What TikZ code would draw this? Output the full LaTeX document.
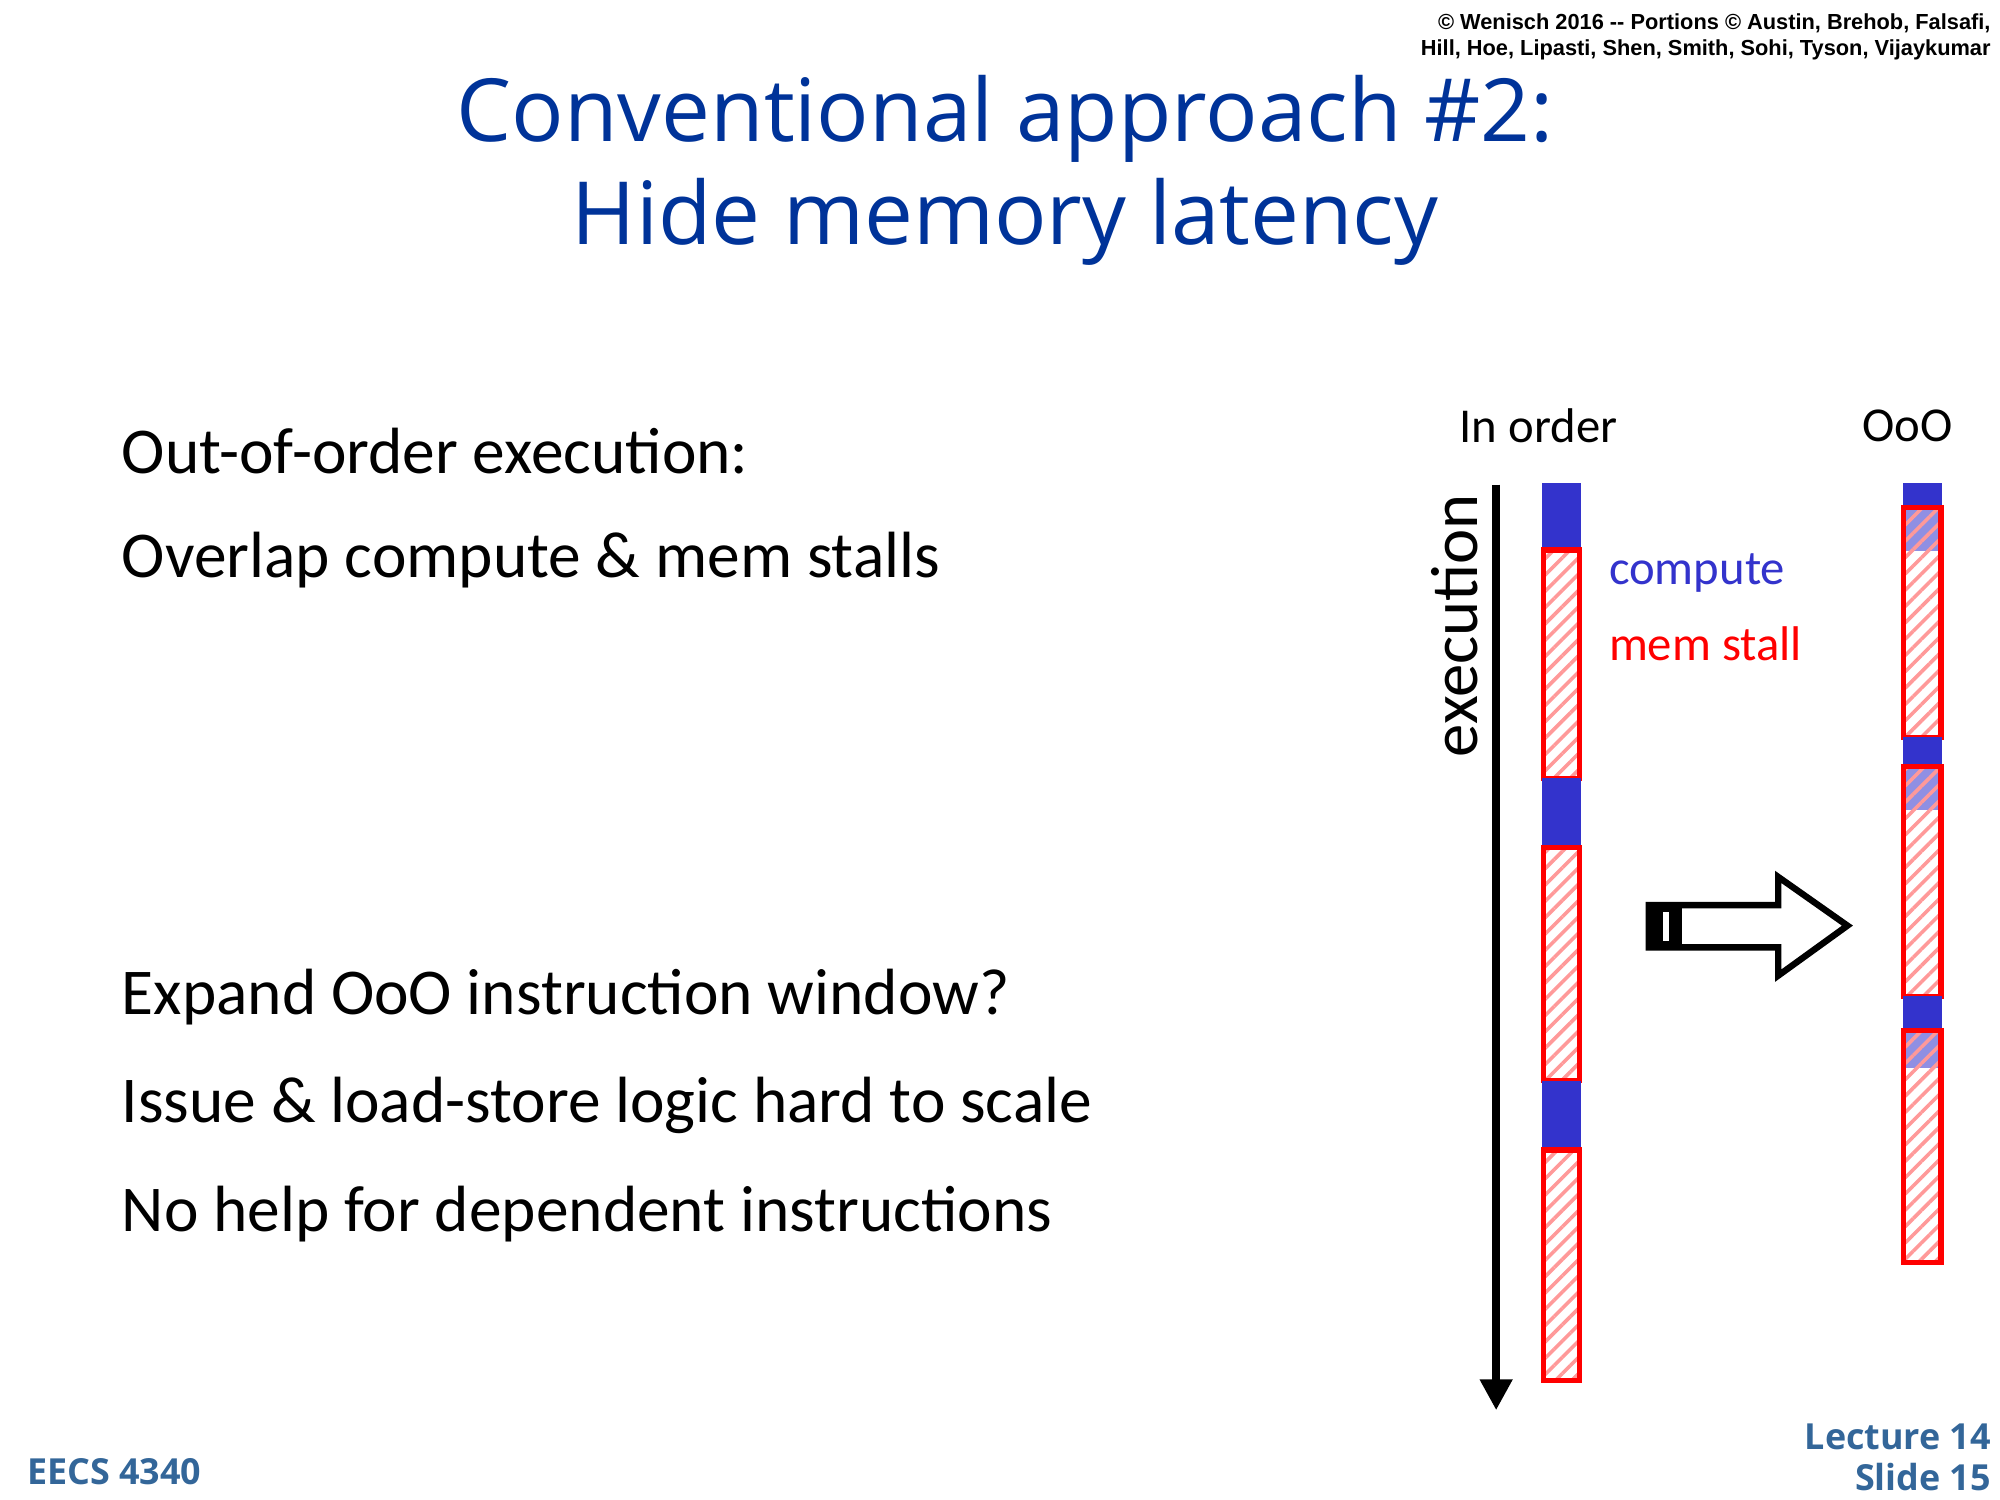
\documentclass[tikz,border=0pt]{standalone}
\usepackage{fontspec}
\setmainfont{Carlito}
\newfontfamily\ttlfont{Open Sans}
\newfontfamily\cpfont{Liberation Sans}
\usetikzlibrary{patterns.meta,arrows.meta}
\definecolor{ttl}{RGB}{0,51,153}
\definecolor{cb}{RGB}{51,51,204}
\definecolor{ft}{RGB}{51,102,153}
\begin{document}
\begin{tikzpicture}[x=0.5pt,y=-0.5pt,
  cmp/.style={fill=cb,draw=none},
  mem/.style={draw=red,line width=2pt,pattern={Lines[angle=45,distance=4.5pt,line width=1.4pt]},pattern color=red!40},
  ovl/.style={fill=cb!55,draw=none},
  body/.style={anchor=west,font=\fontsize{25.5}{30}\selectfont},
  lbl/.style={font=\fontsize{19}{22}\selectfont}]
\useasboundingbox (0,0) rectangle (1560,1170);
\node[anchor=east,align=right,font=\cpfont\bfseries\fontsize{8.5}{10}\selectfont,inner sep=0] (cp) at (1553,29) {\textcopyright\ Wenisch 2016 -- Portions \textcopyright\ Austin, Brehob, Falsafi,\\Hill, Hoe, Lipasti, Shen, Smith, Sohi, Tyson, Vijaykumar};
\node[align=center,text=ttl,font=\ttlfont\fontsize{34}{40}\selectfont] (t) at (784,133) {Conventional approach \#2:\\Hide memory latency};
\node[body] (b1) at (88,352) {Out-of-order execution:};
\node[body] (b2) at (88,437) {Overlap compute \& mem stalls};
\node[body] (b3) at (88,778) {Expand OoO instruction window?};
\node[body] (b4) at (88,862) {Issue \& load-store logic hard to scale};
\node[body] (b5) at (88,947) {No help for dependent instructions};
\node[lbl] (io) at (1200,332) {In order};
\node[lbl] (oo) at (1488,332) {OoO};
\node[lbl,rotate=90,font=\fontsize{26}{30}\selectfont] (ex) at (1135,488) {execution};
\node[lbl,anchor=west,text=cb] (c) at (1248,447) {compute};
\node[lbl,anchor=west,text=red] (m) at (1248,502) {mem stall};
\coordinate (a1) at (1167,378); \coordinate (a2) at (1167,1100);
\draw[line width=3pt,-{Triangle[length=12pt,width=12pt]}] (a1) -- (a2);
% in order
\fill[cmp] (1203,377) rectangle (1233,428);
\draw[mem] (1204,429) rectangle (1232,607);
\fill[cmp] (1203,607) rectangle (1233,660);
\draw[mem] (1204,661) rectangle (1232,843);
\fill[cmp] (1203,843) rectangle (1233,896);
\draw[mem] (1204,897) rectangle (1232,1077);
% OoO
\fill[cmp] (1484,377) rectangle (1515,395);
\fill[ovl] (1485,396) rectangle (1514,430);
\draw[mem] (1485,396) rectangle (1514,575);
\fill[cmp] (1484,575) rectangle (1515,597);
\fill[ovl] (1485,598) rectangle (1514,632);
\draw[mem] (1485,598) rectangle (1514,777);
\fill[cmp] (1484,777) rectangle (1515,803);
\fill[ovl] (1485,804) rectangle (1514,833);
\draw[mem] (1485,804) rectangle (1514,985);
% hollow arrow
\draw[line width=2.5pt,fill=white] (1286,706) -- (1387,706) -- (1387,684) -- (1441,722) -- (1387,761) -- (1387,739) -- (1286,739) -- cycle;
\fill (1284,704) rectangle (1312,741);
\fill[white] (1297,711) rectangle (1302,734);
\node[anchor=west,text=ft,font=\ttlfont\bfseries\fontsize{14}{16}\selectfont] (f1) at (14,1148) {EECS 4340};
\node[anchor=east,align=right,text=ft,font=\ttlfont\bfseries\fontsize{14}{16}\selectfont] (f2) at (1560,1137) {Lecture 14\\Slide 15};
\end{tikzpicture}
\end{document}
